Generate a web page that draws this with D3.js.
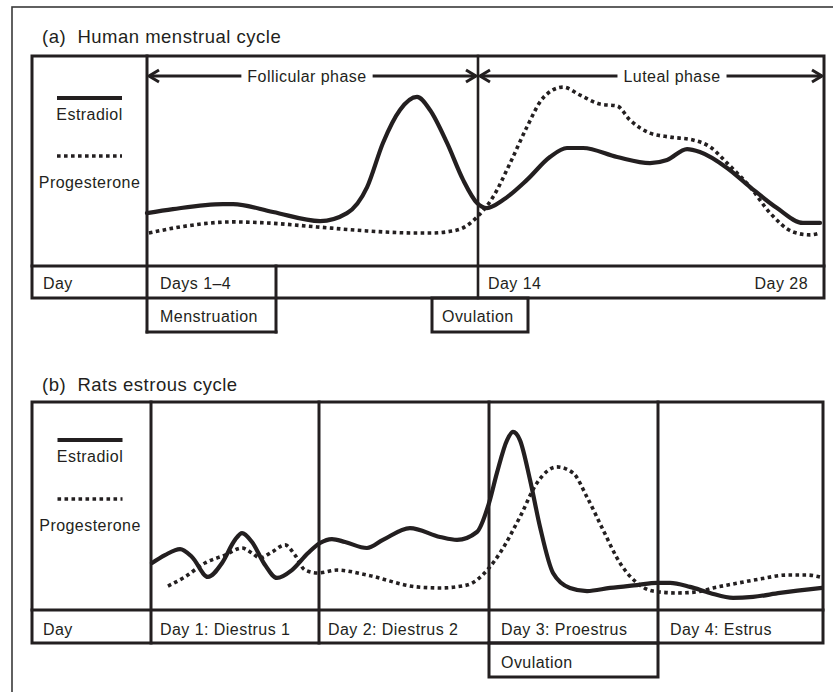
<!DOCTYPE html>
<html><head><meta charset="utf-8">
<script src="https://cdn.jsdelivr.net/npm/d3@7"></script>
<style>
html,body{margin:0;padding:0;background:#fff;}
svg{display:block;}
text{font-family:"Liberation Sans",Arial,sans-serif;fill:#231f20;}
</style></head><body>
<svg id="chart" width="833" height="692"></svg>
<script>
// ---------- DATA ----------
// (a) Human menstrual cycle: [day of cycle, relative level 0-100]
const humanEstradiol = [
  [0,25.2],[1.1,27.1],[3.21,29.5],[3.64,29.5],[5.33,25.7],[7.32,21.4],[8.46,25.2],
  [9.31,37.6],[9.98,58.6],[10.7,74.3],[11.42,80.5],[11.97,74.3],[12.69,58.6],
  [13.37,41.0],[13.96,30.0],[14.36,27.6],[15.01,31.4],[15.98,41.0],[16.91,51.9],
  [17.6,56.2],[18.25,56.2],[19.63,51.9],[20.96,49.0],[21.65,50.5],[22.46,55.7],
  [22.98,54.3],[24.08,46.7],[25.01,37.6],[26.1,27.6],[27.15,20.5],[27.84,20.5]
];
const humanProgesterone = [
  [0.08,15.7],[1.4,18.6],[3.64,21.0],[5.08,20.5],[7.19,18.6],[9.31,16.7],[11.42,15.7],
  [11.97,15.7],[13.11,17.1],[13.96,23.3],[14.61,32.9],[15.3,49.0],[15.98,66.2],
  [16.63,80.0],[17.44,85.2],[18.13,81.4],[18.94,77.1],[19.63,76.2],[20.15,69.5],
  [20.96,63.3],[21.77,61.4],[22.7,60.0],[23.39,56.7],[24.08,49.0],[25.01,37.6],
  [25.82,25.2],[26.75,16.2],[27.43,14.8],[27.84,15.7]
];
const humanDayLabels = ["Day", "Days 1\u20134", "Day 14", "Day 28"];
const humanPhases = ["Follicular phase", "Luteal phase"];

// (b) Rat estrous cycle: [day (0-4), relative level 0-100]
const ratEstradiol = [
  [0.006,22.6],[0.083,26.4],[0.173,29.3],[0.244,25.5],[0.339,15.9],[0.423,22.6],
  [0.5,33.7],[0.542,37.0],[0.601,32.7],[0.679,21.6],[0.75,15.4],[0.839,19.2],
  [0.935,27.4],[1.006,32.2],[1.076,34.1],[1.153,32.7],[1.282,29.8],[1.376,33.7],
  [1.535,39.4],[1.712,35.1],[1.812,33.7],[1.929,37.5],[2.0,51.4],[2.047,65.9],
  [2.107,81.7],[2.142,85.6],[2.183,81.7],[2.243,62.5],[2.302,39.9],[2.379,17.8],
  [2.479,10.6],[2.58,9.1],[2.716,10.6],[2.876,12.0],[2.994,13.0],[3.073,13.0],
  [3.194,11.1],[3.315,8.2],[3.455,5.8],[3.576,6.3],[3.739,8.2],[3.994,10.6]
];
const ratProgesterone = [
  [0.101,11.5],[0.202,15.9],[0.321,22.6],[0.44,26.4],[0.542,29.8],[0.601,27.4],
  [0.649,25.0],[0.72,27.9],[0.798,31.3],[0.857,26.4],[0.917,19.2],[0.994,17.8],
  [1.106,19.2],[1.282,16.8],[1.576,11.1],[1.712,10.6],[1.871,12.0],[2.0,20.2],
  [2.065,27.4],[2.183,44.7],[2.284,61.1],[2.402,68.8],[2.497,65.9],[2.58,54.3],
  [2.675,38.5],[2.775,22.6],[2.876,13.0],[2.97,9.1],[3.115,8.2],[3.236,8.7],
  [3.333,10.6],[3.455,12.5],[3.618,14.9],[3.782,16.8],[3.903,16.8],[3.982,15.9]
];
const ratDays = [0, 1, 2, 3, 4];
const ratDayLabels = ["Day 1: Diestrus 1", "Day 2: Diestrus 2", "Day 3: Proestrus", "Day 4: Estrus"];

const legendLabels = ["Estradiol", "Progesterone"];
const titles = ["(a)  Human menstrual cycle", "(b)  Rats estrous cycle"];

// ---------- DRAWING ----------
const INK = "#231f20";
const svg = d3.select("#chart");
const FS = 16, LS = "0.45px";

function txt(g, x, y, s, opts = {}) {
  return g.append("text").attr("x", x).attr("y", y).text(s)
    .attr("font-size", opts.size || FS)
    .attr("letter-spacing", opts.ls || LS)
    .attr("text-anchor", opts.anchor || "start")
    .style("white-space", "pre");
}
function hline(g, x0, x1, y, w = 3) {
  g.append("line").attr("x1", x0).attr("x2", x1).attr("y1", y).attr("y2", y)
    .attr("stroke", INK).attr("stroke-width", w).attr("stroke-linecap", "square");
}
function vline(g, x, y0, y1, w = 3) {
  g.append("line").attr("x1", x).attr("x2", x).attr("y1", y0).attr("y2", y1)
    .attr("stroke", INK).attr("stroke-width", w).attr("stroke-linecap", "square");
}
function box(g, x0, y0, x1, y1, w = 3) {
  g.append("rect").attr("x", x0).attr("y", y0).attr("width", x1 - x0).attr("height", y1 - y0)
    .attr("fill", "none").attr("stroke", INK).attr("stroke-width", w);
}
const DOT = { w: 3.6, dash: "3.6 3.4" };
function legend(g, cx, ySolid, yDot) {
  const half = 32.5;
  g.append("line").attr("x1", cx - half).attr("x2", cx + half).attr("y1", ySolid).attr("y2", ySolid)
    .attr("stroke", INK).attr("stroke-width", 4);
  txt(g, cx, ySolid + 22, legendLabels[0], { anchor: "middle" });
  g.append("line").attr("x1", cx - half).attr("x2", cx + half).attr("y1", yDot).attr("y2", yDot)
    .attr("stroke", INK).attr("stroke-width", DOT.w).attr("stroke-dasharray", DOT.dash);
  txt(g, cx, yDot + 32, legendLabels[1], { anchor: "middle" });
}
function curves(g, data, x, y, dotted) {
  const line = d3.line().x(d => x(d[0])).y(d => y(d[1])).curve(d3.curveMonotoneX);
  const p = g.append("path").attr("d", line(data)).attr("fill", "none").attr("stroke", INK)
    .attr("stroke-linejoin", "round");
  if (dotted) p.attr("stroke-width", DOT.w).attr("stroke-dasharray", DOT.dash);
  else p.attr("stroke-width", 4.2).attr("stroke-linecap", "round");
}
function arrow(g, x0, x1, y, cx, label) {
  const t = txt(g, cx, y + 6, label, { anchor: "middle" });
  const w = t.node().getComputedTextLength();
  const gap = 6;
  [[x0 + 2, cx - w / 2 - gap], [cx + w / 2 + gap, x1 - 2]].forEach(([a, b]) =>
    g.append("line").attr("x1", a).attr("x2", b).attr("y1", y).attr("y2", y)
      .attr("stroke", INK).attr("stroke-width", 3));
  const head = (tip, dir) => g.append("path")
    .attr("d", `M${tip + dir * 10},${y - 6}L${tip},${y}L${tip + dir * 10},${y + 6}`)
    .attr("fill", "none").attr("stroke", INK).attr("stroke-width", 3);
  head(x0 + 2, 1);
  head(x1 - 2, -1);
}

// outer frame
svg.append("rect").attr("x", 12).attr("y", 7).attr("width", 900).attr("height", 900)
  .attr("fill", "none").attr("stroke", "#3a3a3a").attr("stroke-width", 1.6);

// ===== Panel (a) =====
const gA = svg.append("g");
const xA = d3.scaleLinear().domain([0, 14, 28]).range([147, 478, 824]);
const yA = d3.scaleLinear().domain([0, 100]).range([266, 56]);
txt(gA, 42, 43, titles[0], { size: 18.5, ls: "0.5px" });

const aTop = 56, aPlotB = 266, aDayB = 298, aNoteB = 332;
curves(gA, humanProgesterone, xA, yA, true);
curves(gA, humanEstradiol, xA, yA, false);

box(gA, 32, aTop, xA(28), aDayB);
hline(gA, 32, xA(28), aPlotB);
vline(gA, xA(0), aTop, aNoteB);
vline(gA, xA(14), aTop, aDayB, 2.6);
vline(gA, 276, aPlotB, aNoteB);
hline(gA, xA(0), 276, aNoteB);
box(gA, 432, aDayB, 528, aNoteB);

legend(gA, 89.5, 98, 156);

arrow(gA.append("g"), xA(0), xA(14), 76, 307, humanPhases[0]);
arrow(gA.append("g"), xA(14), xA(28), 76, 672, humanPhases[1]);

txt(gA, 43, 289, humanDayLabels[0]);
txt(gA, 160, 289, humanDayLabels[1]);
txt(gA, xA(14) + 10, 289, humanDayLabels[2]);
txt(gA, xA(28) - 16, 289, humanDayLabels[3], { anchor: "end" });
txt(gA, 160, 322, "Menstruation");
txt(gA, 442, 322, "Ovulation");

// ===== Panel (b) =====
const gB = svg.append("g");
const xB = d3.scaleLinear().domain(ratDays).range([151, 319, 489, 658, 823]);
const yB = d3.scaleLinear().domain([0, 100]).range([610, 402]);
txt(gB, 42, 391, titles[1], { size: 18.5, ls: "0.5px" });

const bTop = 402, bPlotB = 610, bDayB = 643, bNoteB = 677;
curves(gB, ratProgesterone, xB, yB, true);
curves(gB, ratEstradiol, xB, yB, false);

box(gB, 32, bTop, xB(4), bDayB);
hline(gB, 32, xB(4), bPlotB);
ratDays.slice(0, 4).forEach(d => vline(gB, xB(d), bTop, bDayB));
box(gB, xB(2), bDayB, xB(3), bNoteB);

legend(gB, 90, 440, 499);

txt(gB, 43, 635, "Day");
ratDayLabels.forEach((s, i) => txt(gB, xB(i) + (i < 2 ? 9 : 12), 635, s));
txt(gB, xB(2) + 12, 668, "Ovulation");
</script>
</body></html>
